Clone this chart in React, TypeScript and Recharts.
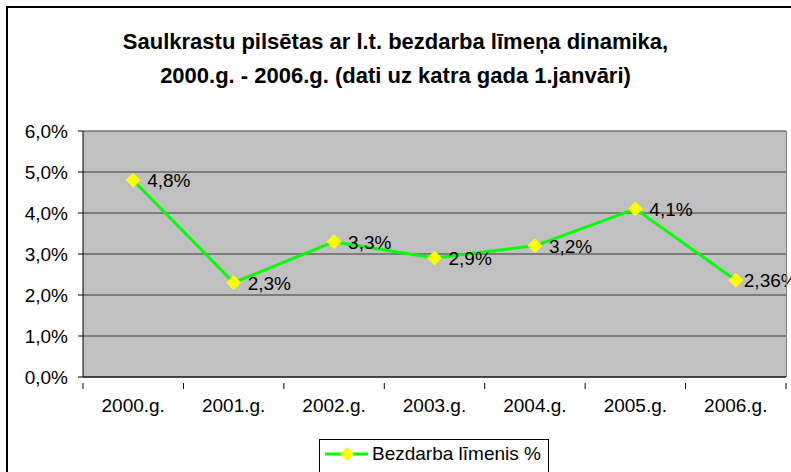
import { LineChart, Line, XAxis, YAxis, CartesianGrid, LabelList } from 'recharts';

const years = ['2000.g.', '2001.g.', '2002.g.', '2003.g.', '2004.g.', '2005.g.', '2006.g.'];
const rates = [4.8, 2.3, 3.3, 2.9, 3.2, 4.1, 2.36];
const rateLabels = ['4,8%', '2,3%', '3,3%', '2,9%', '3,2%', '4,1%', '2,36%'];
const yTicks = [0, 1, 2, 3, 4, 5, 6];

const data = years.map((year, i) => ({ year, rate: rates[i], label: rateLabels[i] }));

const FONT = '"Liberation Sans", Arial, sans-serif';
const PLOT_LEFT = 83;
const PLOT_RIGHT = 786;
const HALF_BAND = (PLOT_RIGHT - PLOT_LEFT) / years.length / 2;

const Diamond = (props: any) => {
  const { cx, cy } = props;
  if (cx == null || cy == null) return null;
  const r = 7;
  return (
    <polygon
      points={`${cx},${cy - r} ${cx + r},${cy} ${cx},${cy + r} ${cx - r},${cy}`}
      fill="#ffff00"
      stroke="#ffff00"
    />
  );
};

// category ticks sit on the band edges, labels in the middle
const XTick = (props: any) => {
  const { x, y, payload, index } = props;
  return (
    <g>
      <line x1={x - HALF_BAND} y1={y - 2} x2={x - HALF_BAND} y2={y + 4} stroke="#000" />
      {index === years.length - 1 && (
        <line x1={x + HALF_BAND} y1={y - 2} x2={x + HALF_BAND} y2={y + 4} stroke="#000" />
      )}
      <text x={x} y={y + 27} textAnchor="middle" fontSize={19} fontFamily={FONT} fill="#000">
        {payload.value}
      </text>
    </g>
  );
};

const PointLabel = (props: any) => {
  const { x, y, value, index } = props;
  // last label is squeezed toward the marker near the edge
  const dx = index === years.length - 1 ? 8 : 14;
  return (
    <text x={x + dx} y={y} dy={7} fontSize={19} fontFamily={FONT} fill="#000">
      {value}
    </text>
  );
};

export default function App() {
  return (
    <div style={{ position: 'absolute', left: 0, top: 0, width: 791, height: 472, background: '#fff', overflow: 'hidden', fontFamily: FONT }}>
      <div style={{ position: 'absolute', left: 6, top: 6, width: 800, height: 500, border: '2px solid #000' }} />
      <div style={{ position: 'absolute', left: 0, top: 25, width: 791, textAlign: 'center', fontWeight: 'bold', fontSize: 22, lineHeight: '34px', color: '#000' }}>
        Saulkrastu pilsētas ar l.t. bezdarba līmeņa dinamika,
        <br />
        2000.g. - 2006.g. (dati uz katra gada 1.janvāri)
      </div>
      <div style={{ position: 'absolute', left: 0, top: 0 }}>
        <LineChart width={791} height={472} data={data} margin={{ top: 131, right: 5, bottom: 65, left: 0 }}>
          <CartesianGrid horizontal vertical={false} stroke="#3a3a3a" fill="#c0c0c0" fillOpacity={1} />
          <XAxis
            dataKey="year"
            height={30}
            padding={{ left: HALF_BAND, right: HALF_BAND }}
            axisLine={{ stroke: '#000' }}
            tickLine={false}
            tick={<XTick />}
            interval={0}
          />
          <YAxis
            width={83}
            domain={[0, 6]}
            ticks={yTicks}
            tickFormatter={(v: number) => `${v},0%`}
            axisLine={{ stroke: '#000' }}
            tickLine={{ stroke: '#000' }}
            tickSize={5}
            tickMargin={10}
            tick={{ fill: '#000', fontSize: 19, fontFamily: FONT }}
          />
          <Line
            dataKey="rate"
            stroke="#00ff00"
            strokeWidth={3}
            dot={<Diamond />}
            activeDot={false}
            isAnimationActive={false}
          >
            <LabelList dataKey="label" content={<PointLabel />} />
          </Line>
        </LineChart>
      </div>
      <div style={{ position: 'absolute', left: PLOT_RIGHT, top: 131, width: 1, height: 246, background: '#808080' }} />
      <div style={{ position: 'absolute', left: 319, top: 439, width: 228, height: 60, border: '1px solid #000', display: 'flex', alignItems: 'flex-start' }}>
        <svg width={52} height={30}>
          <line x1={5} y1={14} x2={48} y2={14} stroke="#00ff00" strokeWidth={3} />
          <polygon points="27,7 34,14 27,21 20,14" fill="#ffff00" />
        </svg>
        <span style={{ fontSize: 19, lineHeight: '28px', color: '#000' }}>Bezdarba līmenis %</span>
      </div>
    </div>
  );
}
